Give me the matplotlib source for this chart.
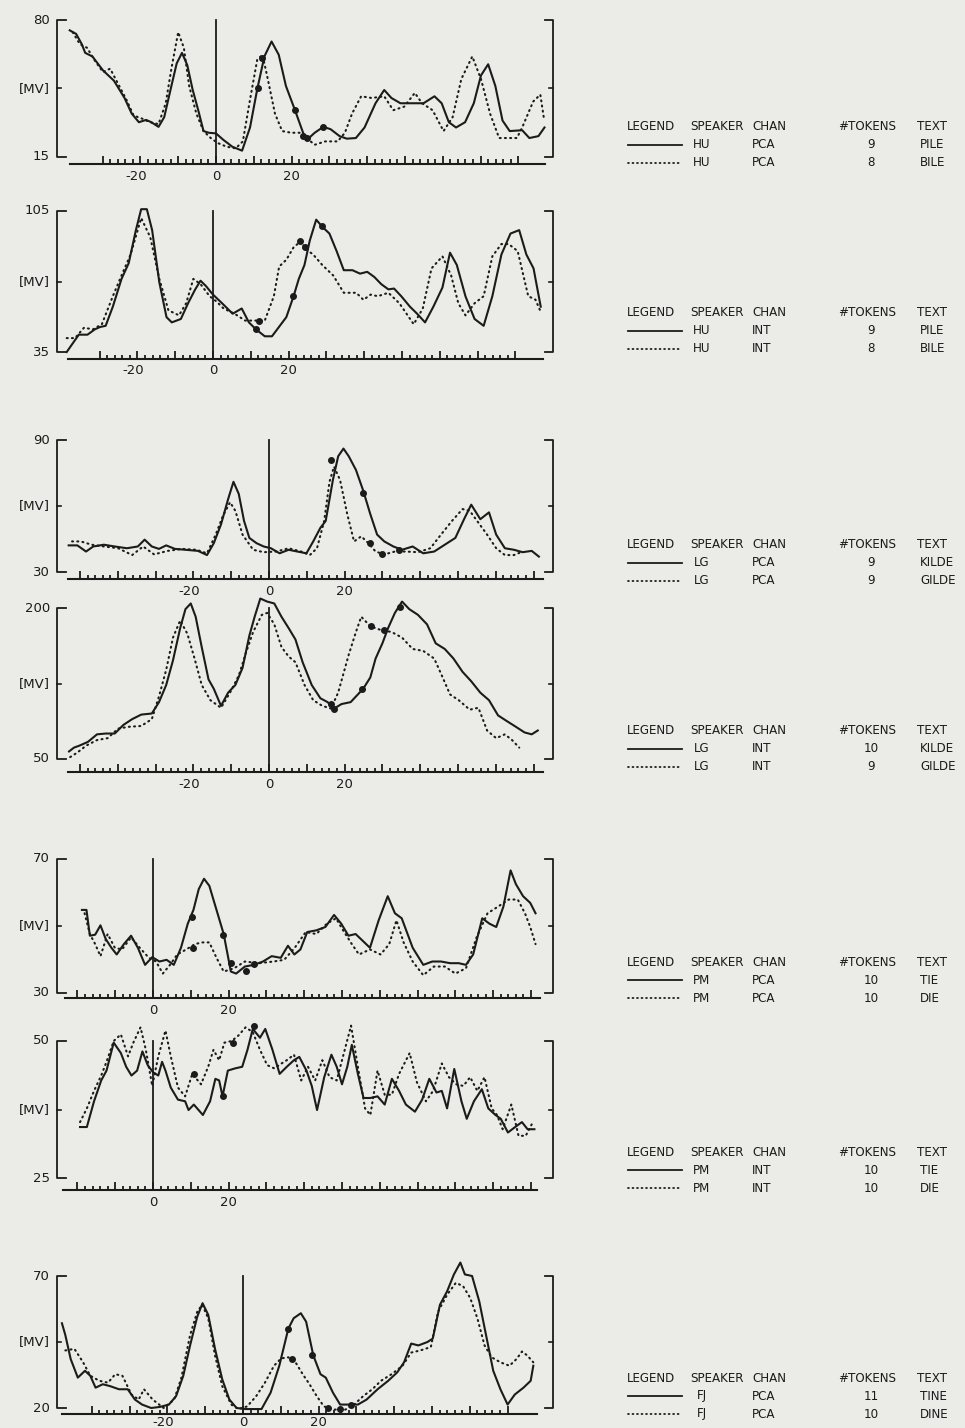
from matplotlib import pyplot as plt

############## Raw data ##############
# (time ms, amplitude mV) pairs

# panel 1 : HU PCA
hu_pca_pile = [(-38.7, 75.1), (-37, 73.4), (-35.5, 68.5), (-34.6, 64.4), (-32.7, 62.7), (-29.9, 56.1),
               (-27, 51.2), (-24.2, 43), (-22.3, 35.6), (-20.4, 31.5), (-18.5, 32.6), (-17.1, 31.5),
               (-15.2, 29.3), (-13.7, 33.9), (-11.8, 48.7), (-10.4, 59.4), (-9, 64.4), (-7.6, 58.6),
               (-6.2, 47.1), (-4.7, 37.2), (-3.3, 27.3), (-1.9, 26.5), (0, 26.2), (1.9, 23.2),
               (4.3, 19.9), (6.9, 18), (9, 29), (10.9, 47.1), (12.8, 62.7), (14.7, 69.8),
               (16.6, 63.5), (18.5, 48.7), (20.9, 37.2), (23.2, 25.7), (24.6, 24), (26.1, 26.5),
               (28.4, 29.3), (30.3, 28.2), (32.7, 24.9), (34.6, 23.7), (37, 24), (39.3, 29),
               (42.2, 40.5), (44.5, 46.8), (46.4, 43), (48.8, 40.5), (51.2, 40.5), (54.9, 40.5),
               (57.8, 43.8), (59.7, 40.5), (61.6, 31.5), (63.5, 29), (65.9, 31.5), (68.2, 40.5),
               (70.1, 53.7), (72, 59), (73.9, 48.7), (75.8, 32.3), (77.7, 27.3), (81, 27.7),
               (82.9, 24), (85.3, 24.9), (86.9, 29)]
hu_pca_bile = [(-37.9, 74.2), (-36, 68.5), (-34.1, 66.8), (-32.2, 61.1), (-29.9, 55.3), (-28, 56.9),
               (-26.1, 50.4), (-23.7, 42.2), (-21.8, 34.7), (-19.4, 33.1), (-17.5, 31.5), (-15.2, 30.6),
               (-13.3, 40.5), (-11.8, 56.9), (-10, 74.2), (-8.5, 66.8), (-7.1, 48.7), (-5.2, 35.6),
               (-3.3, 27.3), (-1.4, 24), (0.5, 21.6), (2.8, 19.9), (5.2, 19.1), (7.1, 22.4),
               (9, 42.2), (10.9, 61.1), (12.3, 63.5), (13.7, 52), (15.6, 35.6), (17.5, 27.3),
               (19.9, 26.5), (22.3, 26.5), (26.1, 20.8), (28.9, 22.4), (32.2, 22.4), (34.1, 26.5),
               (36, 35.6), (38.4, 43.8), (41.2, 43), (44.5, 43.8), (46.9, 37.2), (49.8, 38.9),
               (52.6, 45.4), (54.5, 40.5), (57.3, 37.2), (60.2, 27.3), (62.6, 33.9), (64.9, 52),
               (67.8, 62.7), (70.1, 52), (72.5, 35.6), (74.9, 24), (79.6, 24), (81, 29),
               (83.9, 41.3), (85.8, 44.6), (86.7, 33.9)]
hu_pca_marks = [(11.2, 47.9), (12.1, 61.9), (20.9, 37.2), (23, 25.2), (28.4, 29.3), (24.2, 24)]

# panel 2 : HU INT
hu_int_pile = [(-38.7, 35), (-37.4, 38.5), (-35.5, 43.6), (-33.2, 43.6), (-31.3, 46.2), (-29.9, 47.4),
               (-28.4, 48), (-26.5, 57.5), (-24.2, 71.3), (-22.3, 79.1), (-20.4, 95.5), (-19, 105.9),
               (-17.5, 105.9), (-16.1, 95.5), (-14.2, 69.6), (-12.3, 52.3), (-10.9, 49.7), (-8.5, 51.4),
               (-6.6, 59.2), (-4.7, 66.1), (-3.3, 70.4), (-1.9, 67.8), (0, 63.5), (2.4, 59.2),
               (5.2, 54), (7.6, 56.6), (9.5, 49.7), (11.4, 46.2), (13.7, 42.8), (15.6, 42.8),
               (18, 48.8), (19.4, 52.3), (21.3, 62.6), (22.7, 71.3), (24.2, 78.2), (25.6, 90.3),
               (27.3, 100.7), (28.9, 97.2), (30.8, 93.8), (32.7, 85.1), (34.6, 75.6), (36.9, 75.6),
               (38.9, 73.9), (40.8, 74.8), (42.7, 72.2), (44.5, 68.7), (46.4, 66.1), (47.9, 66.5),
               (49.8, 62.7), (52.1, 57.5), (54, 54), (56.1, 49.7), (58.3, 57.5), (60.7, 67),
               (62.7, 84.3), (64.5, 78.2), (66.8, 62.6), (69.2, 51.4), (71.6, 48), (73.9, 62.7),
               (76.3, 83.4), (78.7, 93.8), (81, 95.5), (82.9, 83.4), (84.8, 76.5), (86.7, 57.5)]
hu_int_bile = [(-38.7, 41.9), (-36.5, 41.9), (-34.1, 47.1), (-31.8, 46.2), (-29.4, 48.8), (-26.5, 62.7),
               (-24.2, 73), (-21.8, 83.4), (-19, 101.5), (-16.6, 92), (-14.2, 71.3), (-11.8, 55.7),
               (-9, 53.2), (-7.1, 59.2), (-5.2, 71.3), (-3.3, 68.7), (-0.9, 62.7), (0.9, 60.1),
               (2.8, 56.6), (5.7, 54), (8.5, 50.6), (11.4, 50.6), (13.7, 50.6), (16.1, 62.7),
               (17.5, 77.4), (19.4, 80.8), (21.3, 86.9), (23.2, 90), (24.6, 86), (26.5, 83.4),
               (28.9, 78.2), (31.8, 73), (34.6, 64.4), (37.9, 64.4), (39.8, 60.9), (41.7, 63.5),
               (43.6, 62.7), (46.4, 64.4), (49.3, 59.2), (53.1, 48.8), (55.5, 56.6), (57.8, 76.5),
               (60.7, 82.5), (63, 73), (64.9, 59.2), (66.8, 53.2), (69.2, 59.2), (71.6, 62.7),
               (73.9, 82.5), (76.3, 88.6), (78.2, 88.6), (80.6, 85.1), (83.4, 62.7), (85.3, 61),
               (86.7, 54.9)]
hu_int_marks = [(11.4, 46.2), (21.1, 62.6), (28.9, 97.6), (12.1, 50.2), (22.9, 90), (24.4, 87.2)]

# panel 3 : LG PCA
lg_pca_kilde = [(-53, 42.1), (-50.7, 42.1), (-48.4, 39.3), (-46.5, 41.6), (-43.7, 42.4), (-40.8, 41.6),
                (-37.6, 40.8), (-34.7, 41.6), (-32.9, 44.7), (-31, 41.6), (-29.1, 40.5), (-27.2, 42.1),
                (-24.9, 40.5), (-22.1, 40.1), (-18.8, 39.6), (-16.4, 37.7), (-14.6, 43.1), (-12.7, 51.6),
                (-10.8, 63.2), (-9.4, 71), (-8, 65.5), (-6.6, 53.2), (-5.2, 45.5), (-3.3, 43.1),
                (-1.4, 41.6), (0.5, 40.8), (2.8, 38.5), (5.2, 40.1), (7.5, 39.3), (9.9, 38.5),
                (11.7, 43.9), (13.6, 50.1), (15, 53.2), (16.9, 71.8), (18.3, 82.6), (19.7, 86.1),
                (21.1, 82.6), (23, 76.4), (24.9, 67.1), (26.8, 56.3), (28.6, 47), (30.5, 43.9),
                (32.9, 41.6), (35.2, 40.1), (38, 41.6), (40.8, 38.5), (43.7, 39.3), (46.5, 42.4),
                (49.3, 45.5), (51.6, 54), (53.5, 60.6), (55.9, 54), (58.2, 57.1), (60.1, 47),
                (62.4, 40.8), (64.8, 40.1), (67.1, 39), (69.5, 39.6), (71.4, 37)]
lg_pca_gilde = [(-52.1, 43.9), (-49.8, 43.9), (-46.9, 42.4), (-43.7, 41.6), (-39.9, 40.8), (-36.2, 37.7),
                (-33.3, 41.6), (-30.4, 38), (-26.8, 39.6), (-23, 40.5), (-19.2, 40.1), (-16.4, 38.5),
                (-14.1, 47), (-12.2, 55.5), (-10.3, 61.7), (-8.9, 57.8), (-7, 47), (-4.2, 40.1),
                (-1.4, 39), (1.9, 39.3), (5.2, 40.8), (8.5, 39.3), (10.8, 37.7), (12.7, 40.8),
                (14.6, 53.2), (16, 71), (17.2, 77.9), (18.8, 71.8), (20.7, 56.3), (22.5, 43.9),
                (24.4, 46.2), (26.3, 43.1), (28.2, 39.3), (30.5, 38), (33.3, 39.3), (36.2, 39.3),
                (39.4, 39), (42.7, 40.8), (45.5, 47), (48.4, 53.2), (51.2, 58.6), (53.1, 57.8),
                (55.4, 52.4), (57.7, 47), (60.1, 40.8), (62.4, 37.7), (64.8, 37.7), (66.7, 39)]
lg_pca_marks = [(16.4, 81), (24.9, 65.9), (34.3, 40.1), (26.6, 43.1), (30, 38.2)]

# panel 4 : LG INT
lg_int_kilde = [(-52.9, 57.5), (-51.6, 61.3), (-50.2, 63.2), (-47.9, 67), (-45.5, 74.5), (-43.2, 75.3),
                (-40.8, 75.3), (-38.5, 83.9), (-36.2, 89.6), (-33.8, 94.1), (-31, 95.2), (-29.1, 106.5),
                (-27.2, 123.5), (-25.4, 148), (-23.5, 180), (-22.1, 198.9), (-20.7, 204.5), (-19.4, 191.3),
                (-17.8, 161.2), (-16, 129.1), (-14.6, 119.7), (-12.7, 102.8), (-10.8, 116), (-8.9, 123.5),
                (-7, 140.5), (-5.2, 172.5), (-3.8, 191.3), (-2.3, 209.4), (-0.5, 206.4), (1.4, 204.5),
                (3.3, 191.3), (5.2, 180), (7, 168.7), (8.9, 146.1), (11.3, 123.5), (13.6, 110.3),
                (15.5, 106.5), (17.2, 100.1), (19.2, 104.6), (21.6, 106.5), (23.5, 114.1), (24.9, 119.7),
                (26.8, 131), (28.2, 149.8), (30, 164.9), (31.5, 180), (33.3, 195.1), (35.2, 206.4),
                (37.1, 198.9), (39.4, 193.2), (41.8, 183.8), (44.1, 164.9), (46.5, 159.3), (48.8, 149.8),
                (51.2, 136.6), (53.5, 127.2), (55.9, 115.9), (58.2, 108.4), (60.6, 93.3), (62.9, 87.7),
                (65.3, 82), (67.6, 76.4), (69.5, 74.5), (71.1, 78.3)]
lg_int_gilde = [(-52.6, 51.9), (-50.7, 56.4), (-48.4, 63.2), (-45.5, 68.8), (-42.7, 70.7), (-39.9, 80.2),
                (-37.1, 82), (-33.8, 82.8), (-31, 89.6), (-29.1, 112.2), (-27.2, 138.6), (-25.4, 170.6),
                (-23.5, 187.6), (-21.6, 174.4), (-19.7, 149.9), (-17.8, 123.5), (-15.5, 108.4), (-12.7, 100.9),
                (-10.3, 116), (-8, 132.9), (-6.1, 155.5), (-4.2, 176.2), (-1.9, 193.2), (-0.5, 195.1),
                (1.4, 183.8), (3.3, 161.2), (5.2, 151.8), (7, 146.1), (9.4, 123.5), (11.7, 108.4),
                (14.1, 102.8), (16.4, 100.1), (18.3, 116), (21.1, 153.7), (23, 176.2), (24.4, 191.3),
                (26.8, 181.9), (29.6, 178.1), (32.4, 176.2), (35.2, 170.6), (38, 159.3), (40.8, 157.4),
                (43.7, 149.8), (45.5, 134.8), (47.9, 114.1), (50.2, 108.4), (53.1, 99), (55.4, 100.9),
                (57.7, 78.3), (60.1, 70.7), (62.4, 74.5), (64.3, 68.8), (66.2, 61.3)]
lg_int_marks = [(17.2, 100.1), (24.7, 119.7), (30.3, 178.1), (34.7, 200.8), (16.4, 104.6), (26.9, 181.9)]

# panel 5 : PM PCA
pm_pca_tie = [(-18.8, 54.8), (-17.6, 54.8), (-16.7, 47.1), (-15.3, 47.4), (-13.9, 50.2), (-12.5, 46.1),
              (-11, 43.5), (-9.6, 41.5), (-7.7, 44.6), (-5.8, 47.1), (-4, 43.5), (-2.1, 38.4),
              (-0.2, 40.7), (1.7, 39.4), (3.6, 39.9), (5.5, 38.4), (7.4, 43.5), (9.2, 50.7),
              (10.7, 54.8), (12.1, 61), (13.5, 64.1), (14.9, 62), (16.8, 54.8), (18.7, 47.6),
              (20.6, 36.4), (22, 35.8), (24.3, 37.9), (26.7, 38.4), (29.1, 39.4), (31.4, 41),
              (33.8, 40.5), (35.7, 44.1), (37.4, 41.5), (39, 43), (40.8, 48.2), (43.2, 48.7),
              (45.6, 49.7), (47.9, 53.3), (49.8, 50.7), (51.7, 47.1), (53.6, 47.6), (55, 46.1),
              (57.4, 43.5), (59.7, 51.7), (62.1, 58.9), (64, 53.8), (65.8, 52.3), (68.7, 43.5),
              (71.5, 38.4), (73.9, 39.4), (76.2, 39.4), (78.6, 38.9), (80.9, 38.9), (82.8, 38.4),
              (84.7, 41.5), (87.1, 52.3), (89, 50.7), (90.8, 49.7), (92.7, 55.8), (94.6, 66.6),
              (96, 62.5), (97.9, 58.9), (99.8, 56.9), (101.2, 53.8)]
pm_pca_die = [(-18.1, 53.8), (-16.7, 47.6), (-15.3, 44.6), (-13.9, 41), (-12, 47.6), (-10.1, 43.5),
              (-8.2, 43), (-5.8, 46.6), (-3.5, 43.5), (-1.1, 40.5), (0.8, 39.4), (2.6, 35.8),
              (4.5, 38.4), (6.4, 41.5), (8.8, 43), (11.1, 44.6), (13, 45.1), (14.9, 45.1),
              (16.8, 40.5), (18.7, 36.4), (21.5, 37.4), (24.3, 39.4), (28.1, 38.9), (31.9, 39.4),
              (34.7, 39.9), (37.5, 43.5), (40.4, 48.2), (43.2, 47.6), (46, 50.7), (48.4, 52.3),
              (50.3, 48.7), (52.6, 44.6), (54.5, 41.5), (57.4, 43), (60.2, 41.5), (62.5, 44.6),
              (64.4, 51.7), (66.3, 45.1), (68.7, 39.4), (71.5, 35.3), (74.3, 37.9), (77.2, 37.9),
              (80, 35.8), (82.8, 37.4), (85.6, 46.6), (88.5, 53.8), (91.3, 55.8), (94.1, 57.9),
              (96.5, 57.9), (98.4, 53.8), (99.8, 49.7), (101.2, 44.6)]
pm_pca_marks = [(10.2, 52.8), (18.5, 47.4), (20.6, 38.9), (26.7, 38.6), (10.7, 43.5), (24.6, 36.6)]

# panel 6 : PM INT
pm_int_tie = [(-19.3, 34.3), (-17.5, 34.3), (-15.6, 39), (-13.7, 42.8), (-12.3, 44.6), (-10.4, 49.7),
              (-8.5, 47.8), (-7.1, 45.3), (-5.7, 43.7), (-4.2, 44.6), (-2.8, 48.1), (-1.4, 45.6),
              (0, 44.3), (1.4, 43.7), (2.4, 46.2), (3.3, 44.6), (4.7, 41.5), (6.6, 39.3),
              (8.5, 39), (9.4, 37.4), (10.8, 38.4), (13.2, 36.5), (15.1, 39), (16.5, 43.1),
              (17.5, 42.8), (18.4, 39.9), (19.8, 44.6), (21.7, 45), (23.6, 45.3), (25, 48.4),
              (26.4, 52.2), (28.3, 50.6), (29.7, 52.2), (31.6, 48.4), (33.5, 44), (35.4, 45.3),
              (37.3, 46.5), (38.7, 47.1), (40.6, 44.6), (42, 41.8), (43.4, 37.4), (45.3, 43.4),
              (47.2, 47.5), (48.6, 45.3), (50, 42.1), (51.4, 45.3), (52.6, 49.3), (54.2, 44),
              (55.7, 39.6), (57.5, 39.6), (59.4, 39.9), (61.3, 38.4), (63.2, 43.1), (65.1, 40.9),
              (66.9, 38.4), (69.3, 37.1), (71.2, 39.3), (73.1, 43.1), (75, 40.6), (76.4, 40.9),
              (77.8, 37.7), (79.7, 44.9), (81.6, 39), (83, 35.8), (84.9, 39), (87, 41.2),
              (88.7, 37.7), (90.6, 36.5), (92, 35.8), (93.9, 33.3), (95.8, 34.3), (97.6, 35.2),
              (99.1, 33.9), (100.9, 33.9)]
pm_int_die = [(-19.3, 35.2), (-17.5, 37.7), (-15.6, 40.9), (-13.7, 43.7), (-12.3, 46.2), (-10.4, 50),
              (-8.5, 51.2), (-6.6, 47.2), (-5.2, 49.7), (-3.3, 52.5), (-1.9, 48.4), (-0.2, 41.8),
              (1.4, 47.2), (3.3, 51.9), (4.7, 47.2), (6.6, 41.5), (8.5, 39.9), (10.4, 44),
              (12.7, 42.1), (14.6, 45.3), (16, 48.4), (17.5, 46.5), (18.9, 49.7), (20.8, 50),
              (22.6, 51), (24.5, 52.5), (26.4, 51.6), (28.3, 48.4), (30.2, 45.6), (32.1, 45),
              (34, 45.9), (35.4, 46.5), (37.3, 47.5), (39.2, 42.8), (41, 45.3), (42.9, 42.8),
              (44.8, 46.5), (46.7, 43.4), (48.6, 42.8), (50.5, 47.8), (52.4, 52.8), (54.2, 45.3),
              (56.1, 37.7), (57.5, 36.5), (59.4, 44.6), (61.3, 40.2), (63.2, 40.2), (65.1, 44),
              (67.9, 47.8), (69.8, 42.5), (72.2, 39), (74.1, 40.9), (76.4, 45.9), (78.3, 43.4),
              (80.2, 42.1), (82.1, 41.8), (83.9, 43.4), (85.8, 40.9), (87.7, 43.4), (89.6, 37.7),
              (91, 36.5), (92.5, 33.9), (94.8, 38.4), (96.7, 32.7), (98.6, 32.7), (100.5, 35.2)]
pm_int_marks = [(18.4, 39.9), (26.7, 52.7), (10.8, 44), (21.2, 49.7)]

# panel 7 : FJ PCA
fj_pca_tine = [(-47.9, 52.1), (-47, 47.6), (-45.6, 38.6), (-43.7, 31.5), (-41.8, 34.1), (-40.4, 32.2),
               (-39, 27.7), (-37.1, 29), (-35.2, 28.3), (-32.8, 27.1), (-30.5, 27.1), (-28.6, 23.2),
               (-26.7, 21.3), (-24.3, 20), (-22, 20.4), (-19.6, 21.3), (-17.7, 24.5), (-15.8, 32.2),
               (-14, 43.7), (-12.1, 54.6), (-10.7, 59.7), (-9.2, 55.3), (-7.4, 42.4), (-5.5, 30.9),
               (-3.6, 23.2), (-1.7, 20), (0.7, 19.6), (4.9, 19.6), (7.3, 25.8), (9.6, 36),
               (12, 50.1), (13.4, 54), (15.3, 55.9), (16.7, 52.7), (18.6, 39.9), (20.5, 32.8),
               (21.9, 31.5), (23.8, 25.8), (25.7, 21.3), (28.5, 21.3), (30.4, 21.3), (32.7, 23.2),
               (35.6, 27.1), (38.4, 30.3), (40.8, 33.5), (42.6, 37.3), (44.5, 44.4), (46.4, 43.7),
               (48.8, 45), (50.2, 46.3), (52.1, 59.1), (54, 64.2), (55.8, 70.6), (57.5, 75.1),
               (58.7, 70.6), (60.6, 70), (62.5, 60.4), (64.3, 47.6), (66.2, 34.1), (68.1, 27.1),
               (70, 21.3), (71.9, 25.1), (74.2, 27.7), (76.1, 30.3), (76.8, 36)]
fj_pca_dine = [(-47, 41.8), (-44.6, 42.4), (-42.3, 37.3), (-40.4, 32.2), (-38, 30.3), (-35.7, 29.6),
               (-33.8, 32.8), (-31.9, 32.2), (-29.5, 25.1), (-27.6, 23.2), (-26.2, 27.1), (-23.9, 23.2),
               (-21, 20), (-18.2, 23.2), (-16.3, 31.5), (-14, 47.6), (-12.1, 56.5), (-10.8, 59.1),
               (-9.2, 54), (-7.4, 39.9), (-5.5, 28.3), (-3.1, 21.3), (-1.2, 19.6), (1.1, 20.6),
               (3.5, 24.5), (5.8, 29.6), (8.2, 36), (10.1, 38.8), (12, 39.2), (13.9, 37.3),
               (15.8, 32.8), (17.6, 29), (19.5, 24.5), (21.4, 20.6), (24.2, 19.4), (27.1, 19.4),
               (29.4, 21.3), (31.8, 24.5), (34.2, 27.1), (36.5, 30.3), (39.3, 32.8), (42.2, 36),
               (44.5, 41), (46.9, 41.8), (49.7, 43.1), (51.6, 56.5), (54, 62.9), (56.3, 67.4),
               (58.2, 66.2), (60.1, 61.7), (62, 54), (63.9, 43.7), (65.8, 39.2), (68.1, 37.3),
               (70.5, 36), (72.4, 38.6), (73.8, 41.4), (75.2, 39.9), (76.8, 37.3)]
fj_pca_marks = [(12, 50.1), (18.3, 39.9), (28.5, 21.3), (12.9, 38.6), (22.4, 20), (25.7, 19.7)]

solid_traces = [hu_pca_pile, hu_int_pile, lg_pca_kilde, lg_int_kilde, pm_pca_tie, pm_int_tie, fj_pca_tine]
dotted_traces = [hu_pca_bile, hu_int_bile, lg_pca_gilde, lg_int_gilde, pm_pca_die, pm_int_die, fj_pca_dine]
marks = [hu_pca_marks, hu_int_marks, lg_pca_marks, lg_int_marks, pm_pca_marks, pm_int_marks, fj_pca_marks]

y_low = [15, 35, 30, 50, 30, 25, 20]
y_high = [80, 105, 90, 200, 70, 50, 70]
tick_range = [(-30, 80), (-30, 80), (-50, 70), (-50, 70), (-20, 100), (-20, 100), (-40, 70)]
tick_labels = [[-20, 0, 20], [-20, 0, 20], [-20, 0, 20], [-20, 0, 20], [0, 20], [0, 20], [-20, 0, 20]]

speakers = ['HU', 'HU', 'LG', 'LG', 'PM', 'PM', 'FJ']
channels = ['PCA', 'INT', 'PCA', 'INT', 'PCA', 'INT', 'PCA']
tokens_solid = [9, 9, 9, 10, 10, 10, 11]
tokens_dotted = [8, 8, 9, 9, 10, 10, 10]
words_solid = ['PILE', 'PILE', 'KILDE', 'KILDE', 'TIE', 'TIE', 'TINE']
words_dotted = ['BILE', 'BILE', 'GILDE', 'GILDE', 'DIE', 'DIE', 'DINE']

############## Layout (pixels) ##############
W, H = 965, 1428
PX_PER_MS = 3.78
top_px = [20, 211, 440, 608, 859, 1041, 1276]
bot_px = [157, 352, 572, 759, 993, 1178, 1408]
base_px = [164, 359, 579, 772, 998, 1190, 1414]
lab_px = [176, 371, 591, 784, 1011, 1203, 1422]
zero_px = [216, 213, 269, 269, 153, 153, 243]
base_span = [(70, 545), (68, 543), (68, 543), (68, 543), (65, 540), (63, 537), (62, 537)]
legend_px = [127, 313, 545, 731, 962, 1152, 1378]

ink = '#1b1b1b'
paper = '#ebebe8'
FS = 9.5
LFS = 8.6
plt.rcParams['font.family'] = ['DejaVu Sans']

fig = plt.figure(figsize=(W / 100, H / 100), dpi=100)
fig.patch.set_facecolor(paper)

for i in range(7):
    top, bot, base, lab, x0 = top_px[i], bot_px[i], base_px[i], lab_px[i], zero_px[i]
    lo, hi = y_low[i], y_high[i]

    def xd(px):
        return (px - x0) / PX_PER_MS

    def yd(py):
        return lo + (bot - py) / (bot - top) * (hi - lo)

    ax_top, ax_bot = top - 26, lab + 12
    ax = fig.add_axes([0, 1 - ax_bot / H, 600 / W, (ax_bot - ax_top) / H])
    ax.set_xlim(xd(0), xd(600))
    ax.set_ylim(yd(ax_bot), yd(ax_top))
    ax.axis('off')
    ax.patch.set_visible(False)

    # traces
    sx, sy = zip(*solid_traces[i])
    dx, dy = zip(*dotted_traces[i])
    ax.plot(sx, sy, color=ink, lw=1.5, solid_joinstyle='round', clip_on=False)
    ax.plot(dx, dy, color=ink, lw=1.5, linestyle=(0, (0.5, 2.0)),
            dash_capstyle='round', clip_on=False)
    mx, my = zip(*marks[i])
    ax.plot(mx, my, 'o', color=ink, ms=4, clip_on=False)

    # brackets
    bl, br = xd(57), xd(553)
    mid = (lo + hi) / 2
    ax.plot([xd(66), bl, bl, xd(66)], [hi, hi, lo, lo], color=ink, lw=1.3)
    ax.plot([xd(545), br, br, xd(545)], [hi, hi, lo, lo], color=ink, lw=1.3)
    ax.plot([bl, xd(61)], [mid, mid], color=ink, lw=1.2)
    ax.plot([xd(549), br], [mid, mid], color=ink, lw=1.2)

    # t = 0 line
    ax.plot([0, 0], [yd(base), hi], color=ink, lw=1.3)

    # time axis
    a, b = base_span[i]
    ax.plot([xd(a), xd(b)], [yd(base), yd(base)], color=ink, lw=1.5)
    t0, t1 = tick_range[i]
    ts = list(range(t0, t1 + 1, 2))
    tops = [yd(base - (8 if t % 10 == 0 else 4.5)) for t in ts]
    ax.vlines(ts, yd(base), tops, color=ink, lw=1.3)
    for t in tick_labels[i]:
        ax.text(t - (1.0 if t < 0 else 0), yd(lab), str(t), ha='center', va='center',
                fontsize=FS, color=ink)

    # amplitude labels
    ax.text(xd(50), hi, str(hi), ha='right', va='center', fontsize=FS, color=ink)
    ax.text(xd(50), mid, '[MV]', ha='right', va='center', fontsize=FS, color=ink)
    ax.text(xd(50), lo, str(lo), ha='right', va='center', fontsize=FS, color=ink)

# legend blocks
lg = fig.add_axes([0, 0, 1, 1])
lg.set_xlim(0, W)
lg.set_ylim(H, 0)
lg.axis('off')
lg.patch.set_visible(False)

header = ['LEGEND', 'SPEAKER', 'CHAN', '#TOKENS', 'TEXT']
header_x = [627, 690, 752, 838, 917]
for i, y in enumerate(legend_px):
    for word, x in zip(header, header_x):
        lg.text(x, y, word, ha='left', va='center', fontsize=LFS, color=ink)
    rows = [('-', tokens_solid[i], words_solid[i]), ('dot', tokens_dotted[i], words_dotted[i])]
    for r, (style, tok, word) in enumerate(rows):
        yy = y + 18 * (r + 1)
        if style == '-':
            lg.plot([628, 682], [yy, yy], color=ink, lw=1.3)
        else:
            lg.plot([628, 682], [yy, yy], color=ink, lw=1.3, linestyle=(0, (0.5, 2.0)),
                    dash_capstyle='round')
        lg.text(702, yy, speakers[i], ha='center', va='center', fontsize=LFS, color=ink)
        lg.text(752, yy, channels[i], ha='left', va='center', fontsize=LFS, color=ink)
        lg.text(871, yy, str(tok), ha='center', va='center', fontsize=LFS, color=ink)
        lg.text(920, yy, word, ha='left', va='center', fontsize=LFS, color=ink)

plt.savefig('out.png', dpi=100, facecolor=paper)
